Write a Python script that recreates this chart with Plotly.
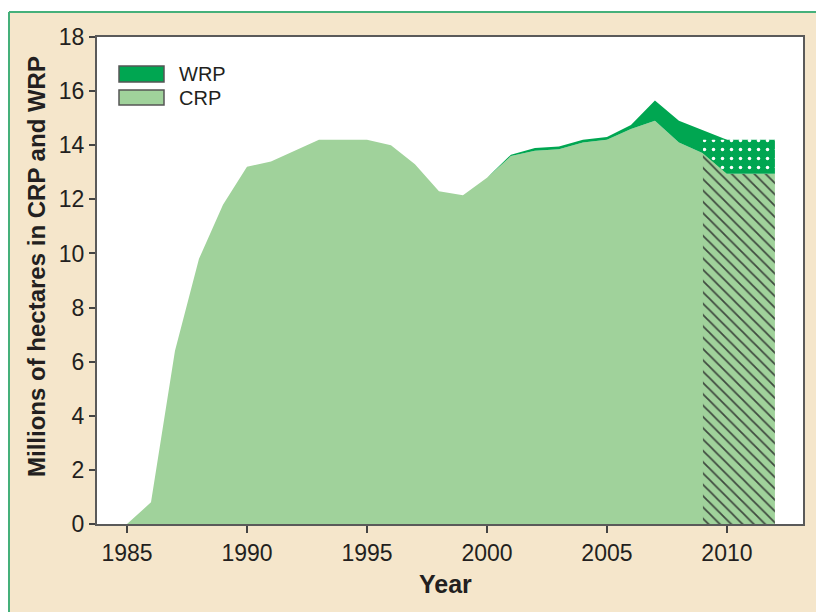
import plotly.graph_objects as go

# ---- data (millions of hectares) ----
years = list(range(1985, 2011))
crp = [0, 0.8, 6.4, 9.8, 11.8, 13.2, 13.4, 13.8, 14.2, 14.2, 14.2, 14.0, 13.3,
       12.3, 12.15, 12.8, 13.6, 13.8, 13.85, 14.1, 14.2, 14.6, 14.9, 14.1, 13.7, 12.95]
wrp = [0, 0, 0, 0, 0, 0, 0, 0, 0, 0, 0, 0, 0,
       0, 0, 0, 0.05, 0.1, 0.1, 0.1, 0.1, 0.15, 0.75, 0.8, 0.85, 1.25]

proj_years = [2009, 2010, 2011, 2012]
crp_proj = [13.7, 12.95, 12.95, 12.95]
wrp_proj = [0.5, 1.25, 1.25, 1.25]

x_ticks = [1985, 1990, 1995, 2000, 2005, 2010]
y_ticks = [0, 2, 4, 6, 8, 10, 12, 14, 16, 18]

LIGHT = "#A0D29B"
DARK = "#00A651"
CREAM = "#F5E6CB"
FONT = "Liberation Sans, Arial, sans-serif"

total = [c + w for c, w in zip(crp, wrp)]
total_proj = [c + w for c, w in zip(crp_proj, wrp_proj)]

fig = go.Figure()

# CRP solid
fig.add_trace(go.Scatter(x=years, y=crp, mode="lines", line=dict(width=0),
                         fill="tozeroy", fillcolor=LIGHT, hoverinfo="skip",
                         showlegend=False))
# WRP solid band
wi = [i for i, y in enumerate(years) if y >= 2000]
bx = [years[i] for i in wi] + [years[i] for i in reversed(wi)]
by = [total[i] for i in wi] + [crp[i] for i in reversed(wi)]
fig.add_trace(go.Scatter(x=bx, y=by, mode="lines", line=dict(width=0),
                         fill="toself", fillcolor=DARK, hoverinfo="skip",
                         showlegend=False))
# CRP projection (hatched)
fig.add_trace(go.Scatter(x=proj_years, y=crp_proj, mode="lines", line=dict(width=0),
                         fill="tozeroy", fillcolor=LIGHT,
                         fillpattern=dict(shape="\\", fgcolor="#3F4A3F", bgcolor=LIGHT,
                                          size=8, solidity=0.22, fillmode="replace"),
                         hoverinfo="skip", showlegend=False))
# WRP projection (dotted)
px_ = proj_years + proj_years[::-1]
py_ = total_proj + crp_proj[::-1]
fig.add_trace(go.Scatter(x=px_, y=py_, mode="lines", line=dict(width=0),
                         fill="toself", fillcolor=DARK,
                         fillpattern=dict(shape=".", fgcolor="white", bgcolor=DARK,
                                          size=9, solidity=0.12, fillmode="replace"),
                         hoverinfo="skip", showlegend=False))

# the page body has an 8px margin; the figure sits at page (8, 8)
OFF = 8
W, H = 824 - OFF, 612 - OFF
# plot area in page pixels
L, R, T, B = 97, 803, 37, 524
def pxx(p):
    return (p - L) / (R - L)
def pxy(p):
    return (B - p) / (B - T)

GREEN_LINE = "#45B07A"
shapes = [
    # white strip above the green panel border
    dict(type="rect", xref="paper", yref="paper", x0=pxx(0), x1=pxx(830),
         y0=pxy(12), y1=pxy(0), fillcolor="white", line=dict(width=0), layer="below"),
    dict(type="line", xref="paper", yref="paper", x0=pxx(9), x1=pxx(830),
         y0=pxy(12), y1=pxy(12), line=dict(color=GREEN_LINE, width=2)),
    dict(type="line", xref="paper", yref="paper", x0=pxx(9), x1=pxx(9),
         y0=pxy(12), y1=pxy(620), line=dict(color=GREEN_LINE, width=2)),
    # legend swatches
    dict(type="rect", xref="paper", yref="paper", x0=pxx(119), x1=pxx(164),
         y0=pxy(82), y1=pxy(66), fillcolor=DARK, line=dict(color="#555555", width=1.5)),
    dict(type="rect", xref="paper", yref="paper", x0=pxx(119), x1=pxx(164),
         y0=pxy(105), y1=pxy(90), fillcolor=LIGHT, line=dict(color="#555555", width=1.5)),
]

annotations = [
    dict(text="WRP", xref="paper", yref="paper", x=pxx(177), y=pxy(74),
         xanchor="left", yanchor="middle", showarrow=False,
         font=dict(family=FONT, size=20, color="#231F20")),
    dict(text="CRP", xref="paper", yref="paper", x=pxx(177), y=pxy(98),
         xanchor="left", yanchor="middle", showarrow=False,
         font=dict(family=FONT, size=20, color="#231F20")),
    dict(text="<b>Millions of hectares in CRP and WRP</b>", xref="paper", yref="paper",
         x=pxx(36), y=pxy(267), textangle=-90, xanchor="center", yanchor="middle",
         showarrow=False, font=dict(family=FONT, size=24, color="#231F20")),
    dict(text="<b>Year</b>", xref="paper", yref="paper", x=pxx(445), y=pxy(584),
         xanchor="center", yanchor="middle", showarrow=False,
         font=dict(family=FONT, size=25, color="#231F20")),
]

fig.update_layout(
    width=W, height=H,
    margin=dict(l=L - OFF, r=W - (R - OFF), t=T - OFF, b=H - (B - OFF)),
    paper_bgcolor=CREAM, plot_bgcolor="white",
    shapes=shapes, annotations=annotations, showlegend=False,
    font=dict(family=FONT, color="#231F20"),
)
fig.update_xaxes(range=[1983.75, 2013.17], tickvals=x_ticks, ticks="outside",
                 ticklen=7, tickwidth=2, tickcolor="#444444",
                 showline=True, linecolor="#5A5A5A", linewidth=2, mirror=True,
                 showgrid=False, zeroline=False,
                 tickfont=dict(family=FONT, size=23, color="#231F20"))
fig.update_yaxes(range=[0, 18], tickvals=y_ticks, ticks="outside",
                 ticklen=6, tickwidth=2, tickcolor="#444444",
                 showline=True, linecolor="#5A5A5A", linewidth=2, mirror=True,
                 showgrid=False, zeroline=False,
                 tickfont=dict(family=FONT, size=23, color="#231F20"))

fig.write_html("out.html")
